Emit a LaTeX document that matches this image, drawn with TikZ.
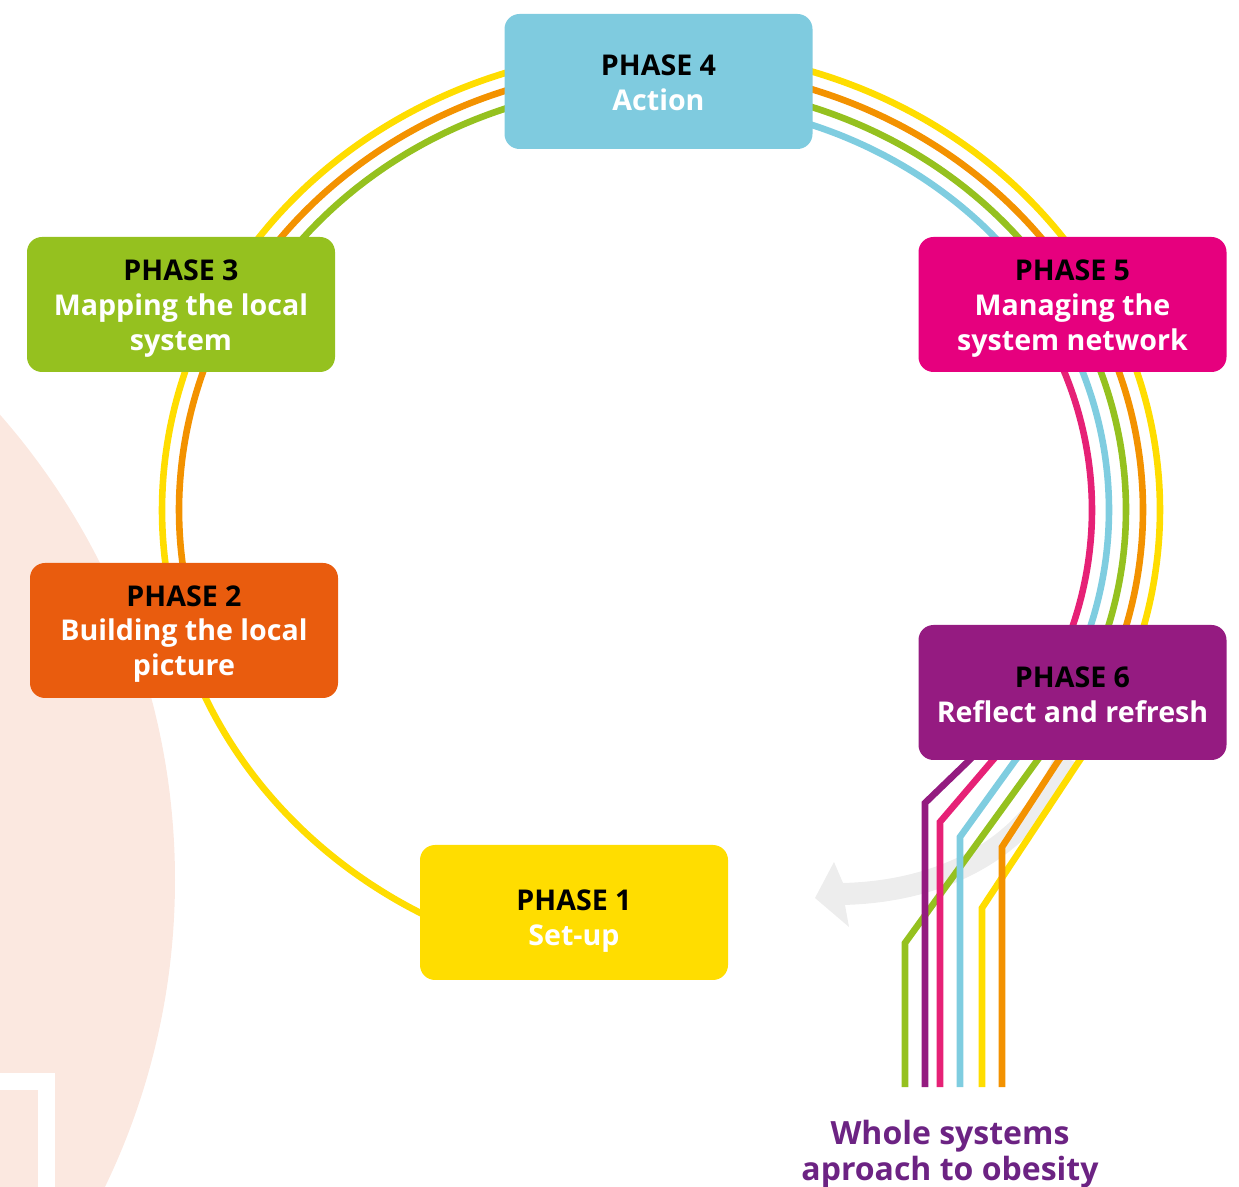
\documentclass[tikz,border=0pt]{standalone}
\usepackage{fontspec}
\setmainfont{Open Sans}
\definecolor{peach}{HTML}{FBE8E0}
\definecolor{arrowgray}{HTML}{EDEDED}
\definecolor{ringyellow}{HTML}{FFDD00}
\definecolor{ringorange}{HTML}{F39200}
\definecolor{ringgreen}{HTML}{95C11F}
\definecolor{ringblue}{HTML}{7FCDE0}
\definecolor{ringpink}{HTML}{E62176}
\definecolor{ringpurple}{HTML}{941B80}
\definecolor{boxone}{HTML}{FFDD00}
\definecolor{boxtwo}{HTML}{E95C0E}
\definecolor{boxthree}{HTML}{95C11F}
\definecolor{boxfour}{HTML}{7FCBDF}
\definecolor{boxfive}{HTML}{E6007E}
\definecolor{boxsix}{HTML}{951B81}
\definecolor{titlepurple}{HTML}{6C2383}
\newcommand{\wt}[1]{\textcolor{white}{#1}}
\begin{document}
\begin{tikzpicture}[x=0.5pt,y=-0.5pt,
  ring/.style={line width=3.3pt},
  phasebox/.style={rounded corners=7.5pt, minimum width=154pt, minimum height=67.5pt, inner sep=0pt},
  phasetext/.style={align=center, inner sep=0pt, font=\bfseries\fontsize{14.3}{17.3}\selectfont}]
\useasboundingbox (0,0) rectangle (1239,1187);
% background
\begin{scope}
\clip (0,0) rectangle (1239,1187);
\fill[peach] (-531,880) circle[radius=706];
\draw[white, line width=8.5pt] (-20,1081) -- (46.5,1081) -- (46.5,1210);
\end{scope}
% grey curved arrow
\draw[arrowgray, line width=11pt] (1065,758) .. controls (1030,850) and (940,892) .. (842,894);
\fill[arrowgray] (815,898) -- (834,862) -- (843,883) -- (845,905) -- (849,927) -- cycle;
% rings
\coordinate (yb) at (982,908);  \coordinate (ye) at (982,1087);
\coordinate (ob) at (1002,847); \coordinate (oe) at (1002,1087);
\coordinate (gb) at (905,943);  \coordinate (ge) at (905,1087);
\coordinate (bb) at (960,837);  \coordinate (be) at (960,1087);
\coordinate (kb) at (940,822);  \coordinate (ke) at (940,1087);
\coordinate (ub) at (925,803);  \coordinate (ue) at (925,1087);
\draw[ring, ringyellow] plot[domain=115:392.9, samples=160, smooth] ({661+499*cos(\x)}, {510+460*sin(\x)}) -- (yb) -- (ye);
\draw[ring, ringorange] plot[domain=160:394.4, samples=140, smooth] ({661+482*cos(\x)}, {510+443*sin(\x)}) -- (ob) -- (oe);
\draw[ring, ringgreen] plot[domain=205:395.9, samples=120, smooth] ({661+465*cos(\x)}, {510+426*sin(\x)}) -- (gb) -- (ge);
\draw[ring, ringblue] plot[domain=265:397.7, samples=100, smooth] ({661+448*cos(\x)}, {510+409*sin(\x)}) -- (bb) -- (be);
\draw[ring, ringpink] plot[domain=330:399.6, samples=60, smooth] ({661+431*cos(\x)}, {510+392*sin(\x)}) -- (kb) -- (ke);
\draw[ring, ringpurple] plot[domain=25:41.8, samples=20, smooth] ({661+414*cos(\x)}, {510+375*sin(\x)}) -- (ub) -- (ue);
% phase boxes
\node[phasebox, fill=boxfour] (p4) at (658.5,81.5) {};
\node[phasetext] (p4t) at ([yshift=-0.6pt]p4.center) {PHASE 4\\\wt{Action}};
\node[phasebox, fill=boxthree] (p3) at (181,304.5) {};
\node[phasetext] (p3t) at ([yshift=-2pt]p3.center) {PHASE 3\\\wt{Mapping the local}\\\wt{system}};
\node[phasebox, fill=boxfive] (p5) at (1072.5,304.5) {};
\node[phasetext] (p5t) at ([yshift=-2pt]p5.center) {PHASE 5\\\wt{Managing the}\\\wt{system network}};
\node[phasebox, fill=boxtwo] (p2) at (184,630.5) {};
\node[phasetext] (p2t) at ([yshift=-1.6pt]p2.center) {PHASE 2\\\wt{Building the local}\\\wt{picture}};
\node[phasebox, fill=boxsix] (p6) at (1072.5,692.5) {};
\node[phasetext] (p6t) at ([yshift=-1pt]p6.center) {PHASE 6\\\wt{Reflect and refresh}};
\node[phasebox, fill=boxone] (p1) at (574,912.5) {};
\node[phasetext] (p1t) at ([yshift=-4.3pt]p1.center) {PHASE 1\\\wt{Set-up}};
% title
\node[font=\bfseries\fontsize{16}{18}\selectfont, text=titlepurple, align=center, inner sep=0pt] (title) at (950,1154) {Whole systems\\aproach to obesity};
\end{tikzpicture}
\end{document}
